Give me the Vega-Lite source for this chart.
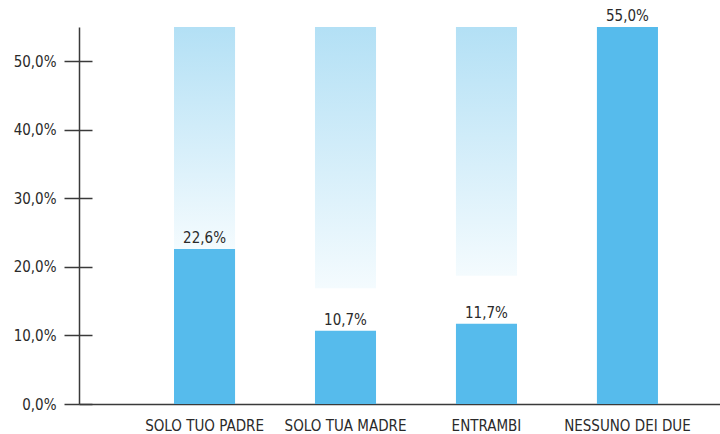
{
  "$schema": "https://vega.github.io/schema/vega-lite/v6.json",
  "autosize": {"type": "none"},
  "padding": {"left": 79, "top": 27, "right": 0, "bottom": 30},
  "width": 641,
  "height": 377,
  "background": "#ffffff",
  "config": {
    "locale": {"number": {"decimal": ",", "thousands": ".", "grouping": [3], "currency": ["", " €"]}},
    "view": {"stroke": null},
    "font": "Liberation Sans Narrow, DejaVu Sans Condensed, sans-serif"
  },
  "data": {
    "values": [
      {"cat": "SOLO TUO PADRE", "value": 0.226, "bg": 0.226},
      {"cat": "SOLO TUA MADRE", "value": 0.107, "bg": 0.169},
      {"cat": "ENTRAMBI", "value": 0.117, "bg": 0.187},
      {"cat": "NESSUNO DEI DUE", "value": 0.55, "bg": 0.55}
    ]
  },
  "encoding": {
    "x": {
      "field": "cat",
      "type": "nominal",
      "sort": null,
      "scale": {"paddingInner": 0.567, "paddingOuter": 0.557, "align": 0.605},
      "axis": {
        "title": null,
        "labelAngle": 0,
        "ticks": false,
        "domainColor": "#3a3a3a",
        "domainWidth": 1.5,
        "labelColor": "#2a2a2a",
        "labelFontSize": 15,
        "labelPadding": 14,
        "labelFont": "Liberation Sans Narrow, DejaVu Sans Condensed, sans-serif"
      }
    }
  },
  "layer": [
    {
      "mark": {
        "type": "bar",
        "fill": {
          "gradient": "linear",
          "x1": 0, "y1": 0, "x2": 0, "y2": 1,
          "stops": [
            {"offset": 0, "color": "#b3e0f5"},
            {"offset": 1, "color": "#f4fbfe"}
          ]
        }
      },
      "encoding": {
        "y": {
          "field": "bg",
          "type": "quantitative",
          "scale": {"domain": [0, 0.55], "nice": false, "zero": true},
          "axis": {
            "title": null,
            "values": [0, 0.1, 0.2, 0.3, 0.4, 0.5],
            "format": ".1%",
            "tickSize": 15,
            "tickWidth": 1.5,
            "tickColor": "#3a3a3a",
            "domainColor": "#3a3a3a",
            "domainWidth": 1.5,
            "grid": true,
            "gridColor": "#3a3a3a",
            "gridWidth": 1.5,
            "gridDash": [13, 3000],
            "labelPadding": 8,
            "labelColor": "#2a2a2a",
            "labelFontSize": 15,
            "labelFont": "Liberation Sans Narrow, DejaVu Sans Condensed, sans-serif"
          }
        },
        "y2": {"datum": 0.55}
      }
    },
    {
      "mark": {"type": "bar", "color": "#56bbec"},
      "encoding": {
        "y": {"field": "value", "type": "quantitative"}
      }
    },
    {
      "mark": {"type": "text", "baseline": "bottom", "dy": -3, "fontSize": 15, "color": "#2a2a2a"},
      "encoding": {
        "y": {"field": "value", "type": "quantitative"},
        "text": {"field": "value", "type": "quantitative", "format": ".1%"}
      }
    }
  ]
}
